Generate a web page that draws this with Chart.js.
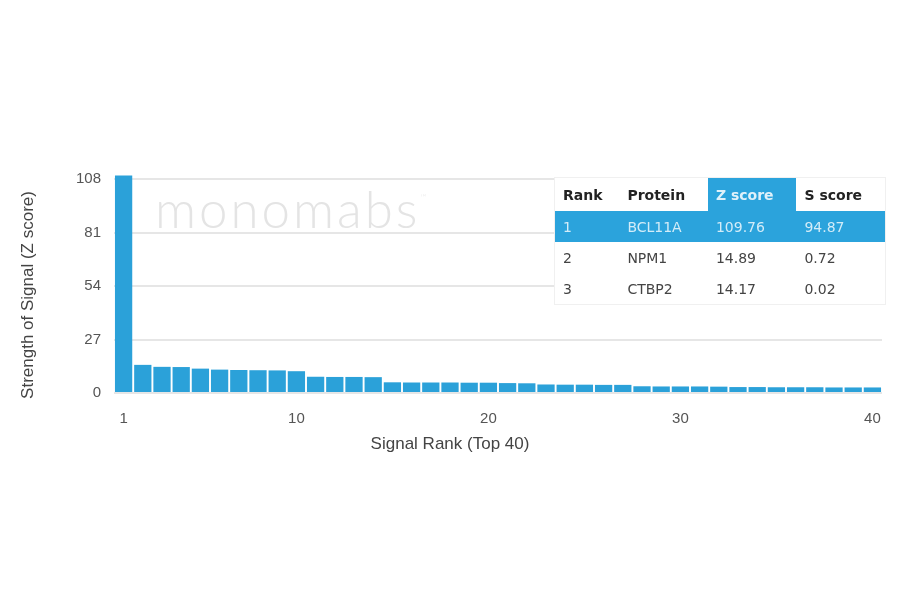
<!DOCTYPE html>
<html>
<head>
<meta charset="utf-8">
<script src="https://cdn.jsdelivr.net/npm/chart.js@4.4.0/dist/chart.umd.min.js"></script>
<style>
  html, body { margin: 0; padding: 0; background: #fff; }
  #wrap { position: relative; width: 900px; height: 594px; }
  #chart { position: absolute; left: 0; top: 0; }
  .watermark {
    position: absolute; left: 155px; top: 178px;
    font-family: Lato, "Open Sans", sans-serif; font-weight: 300;
    font-size: 51px; letter-spacing: 3px; color: #e4e4e4;
    pointer-events: none;
  }
  .watermark sup { font-size: 8px; vertical-align: top; position: relative; top: 14px; }
  table.scores {
    position: absolute; left: 555px; top: 178px; width: 330px;
    border-collapse: collapse; background: #fff;
    font-family: "DejaVu Sans", sans-serif; font-size: 14px; color: #444;
    box-shadow: 0 0 0 1px #f0f0f0;
  }
  table.scores th, table.scores td { text-align: left; padding: 0 0 0 8px; white-space: nowrap; }
  table.scores th { height: 33px; font-weight: bold; color: #222; }
  table.scores td { height: 31px; }
  table.scores th.hl { background: #2ba3dc; color: #dff1fa; }
  table.scores tr.top td { background: #2ba3dc; color: #d3ecf8; }
</style>
</head>
<body>
<div id="wrap">
  <canvas id="chart" width="900" height="594"></canvas>
  <div class="watermark">monomabs<sup>™</sup></div>
  <table class="scores" id="scores"></table>
</div>
<script>
// Signal rank 1..40 with Z scores
const ranks = Array.from({ length: 40 }, (_, i) => String(i + 1));
const zScores = [
  109.76, 14.2, 13.2, 13.1, 12.3, 11.8, 11.6, 11.5, 11.4, 11.0,
  8.2, 8.1, 8.1, 8.0, 5.4, 5.3, 5.3, 5.3, 5.2, 5.2,
  5.0, 4.9, 4.3, 4.2, 4.2, 4.1, 4.1, 3.4, 3.3, 3.3,
  3.3, 3.2, 3.0, 3.0, 2.9, 2.9, 2.9, 2.8, 2.8, 2.8
];
const shownTicks = ['1', '10', '20', '30', '40'];
const yTicks = [0, 27, 54, 81, 108];
const xTitle = 'Signal Rank (Top 40)';
const yTitle = 'Strength of Signal (Z score)';

// Top hits table
const tableHeader = ['Rank', 'Protein', 'Z score', 'S score'];
const tableRank = ['1', '2', '3'];
const tableProtein = ['BCL11A', 'NPM1', 'CTBP2'];
const tableZ = ['109.76', '14.89', '14.17'];
const tableS = ['94.87', '0.72', '0.02'];

const barBlue = '#2ba1d9';
const titleFont = '17px "Liberation Sans", Arial, sans-serif';

// build table
const tbl = document.getElementById('scores');
let html = '<tr>' + tableHeader.map((h, i) =>
  `<th${i === 2 ? ' class="hl"' : ''} style="width:${[56, 80, 80, 80][i]}px">${h}</th>`).join('') + '</tr>';
tableRank.forEach((r, i) => {
  html += `<tr${i === 0 ? ' class="top"' : ''}><td>${r}</td><td>${tableProtein[i]}</td><td>${tableZ[i]}</td><td>${tableS[i]}</td></tr>`;
});
tbl.innerHTML = html;

// axis titles are placed on the page rather than centred on the plot area
const axisTitles = {
  id: 'axisTitles',
  afterDraw(chart) {
    const c = chart.ctx;
    c.save();
    c.font = titleFont;
    c.fillStyle = '#444';
    c.textAlign = 'center';
    c.textBaseline = 'middle';
    c.fillText(xTitle, 450, 444);
    c.translate(28, 295);
    c.rotate(-Math.PI / 2);
    c.fillText(yTitle, 0, 0);
    c.restore();
  }
};

const ctx = document.getElementById('chart').getContext('2d');
new Chart(ctx, {
  type: 'bar',
  data: {
    labels: ranks,
    datasets: [{
      data: zScores,
      backgroundColor: barBlue,
      borderWidth: 0,
      barPercentage: 0.9,
      categoryPercentage: 1.0,
      clip: false
    }]
  },
  plugins: [axisTitles],
  options: {
    responsive: false,
    animation: false,
    layout: { padding: { left: 14, right: 18, top: 179, bottom: 131 } },
    plugins: { legend: { display: false }, tooltip: { enabled: false } },
    scales: {
      x: {
        grid: { display: false },
        border: { display: false },
        ticks: {
          autoSkip: false, maxRotation: 0, padding: 9,
          color: '#555', font: { family: 'Liberation Sans, Arial', size: 15 },
          callback: function (val) {
            const l = this.getLabelForValue(val);
            return shownTicks.includes(l) ? l : '';
          }
        },
        afterFit: s => { s.height = 70; }
      },
      y: {
        min: 0, max: 108,
        afterBuildTicks: s => { s.ticks = yTicks.map(v => ({ value: v })); },
        grid: { color: '#e6e6e6', lineWidth: 2, drawTicks: false },
        border: { display: false },
        ticks: {
          padding: 13, color: '#555',
          font: { family: 'Liberation Sans, Arial', size: 15 }
        },
        afterFit: s => { s.width = 100; }
      }
    }
  }
});
</script>
</body>
</html>
